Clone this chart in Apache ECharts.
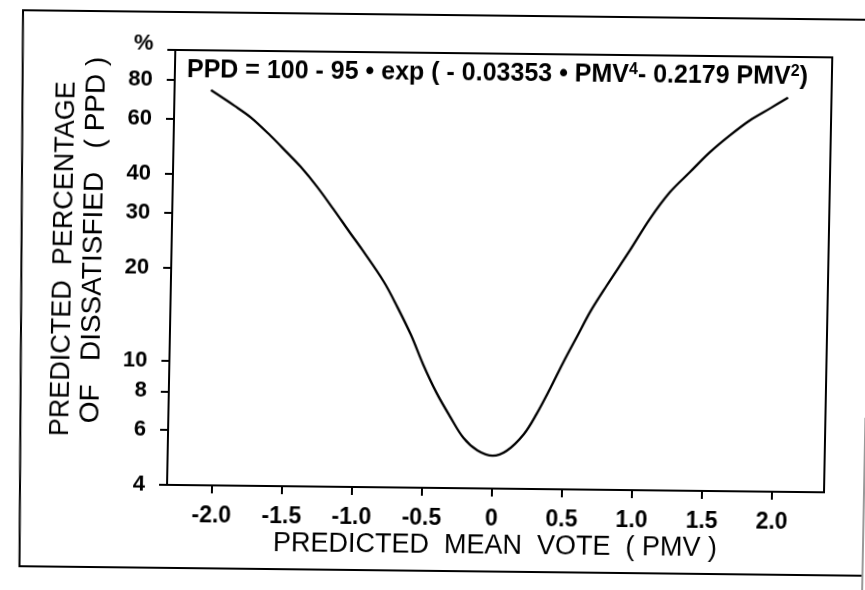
<!DOCTYPE html>
<html><head><meta charset="utf-8">
<script src="https://cdn.jsdelivr.net/npm/echarts@6/dist/echarts.min.js"></script>
<style>
html,body{margin:0;padding:0;background:#fff;overflow:hidden;width:865px;height:590px}
#c{width:865px;height:590px;transform-origin:0 0;transform:matrix(1,0.0113,-0.019,1,9.27,-1.92);}
</style></head><body><div id="c"></div>
<script>
// Values
const pmv = [-2.06,-1.89,-1.77,-1.63,-1.51,-1.41,-1.29,-1.17,-1.05,-0.96,-0.80,-0.70,-0.60,-0.51,-0.41,-0.31,-0.21,-0.11,0.00,0.10,0.22,0.31,0.40,0.49,0.59,0.68,0.79,0.95,1.09,1.23,1.37,1.51,1.65,1.79,1.94,2.06];
const ppd = [74.5,66.5,61.0,53.5,47.3,42.6,36.8,31.2,26.3,23.2,18.3,15.2,12.4,10.0,8.1,6.8,5.8,5.3,5.1,5.3,6.0,7.0,8.4,10.2,12.5,15.0,18.1,23.5,29.8,36.4,42.3,49.1,55.7,62.3,68.5,74.0];
const xTicks = [-2,-1.5,-1,-0.5,0,0.5,1,1.5,2];
const xTickLabels = ['-2.0','-1.5','-1.0','-0.5','0','0.5','1.0','1.5','2.0'];
const yTicks = [4,6,8,10,20,30,40,60,80,100];
const yTickLabels = ['4','6','8','10','20','30','40','60','80','%'];
const xTitle = 'PREDICTED  MEAN  VOTE  ( PMV )';
const yTitle1 = 'PREDICTED  PERCENTAGE';
const yTitle2 = 'OF   DISSATISFIED   ( PPD )';

const FONT = '"Liberation Sans", Arial, Helvetica, sans-serif';
const chart = echarts.init(document.getElementById('c'), null, {renderer:'canvas'});
const lookup = (vals, labels, v) => {
  for (let i = 0; i < vals.length; i++) if (Math.abs(vals[i] - v) < 1e-6 * Math.max(1, Math.abs(v))) return labels[i];
  return '';
};
chart.setOption({
  backgroundColor: '#fff',
  animation: false,
  grid: {left: 167, top: 50, right: 41, bottom: 105, show: true, borderColor: '#000', borderWidth: 2, backgroundColor: 'transparent'},
  xAxis: {
    type: 'value', min: -2.32, max: 2.37,
    axisLine: {show: true, onZero: false, lineStyle: {color: '#000', width: 2}},
    axisTick: {show: true, length: 8, customValues: xTicks, lineStyle: {color: '#000', width: 2}},
    axisLabel: {customValues: xTicks, margin: 19, color: '#000', fontSize: 23, fontWeight: 'bold', fontFamily: FONT,
      formatter: v => lookup(xTicks, xTickLabels, v)},
    splitLine: {show: false}
  },
  yAxis: {
    type: 'log', logBase: 10, min: 4, max: 100,
    axisLine: {show: true, onZero: false, lineStyle: {color: '#000', width: 2}},
    axisTick: {show: true, length: 8, customValues: yTicks, lineStyle: {color: '#000', width: 2}},
    axisLabel: {customValues: yTicks, margin: 22, color: '#000', fontSize: 22, fontWeight: 'bold', fontFamily: FONT,
      formatter: v => { const s = lookup(yTicks, yTickLabels, v); return s === '%' ? '{pct|%}' : s; },
      rich: {pct: {fontSize: 22, fontWeight: 'bold', fontFamily: FONT, color: '#000', padding: [0, 0, 12, 0]}}},
    splitLine: {show: false}, minorTick: {show: false}
  },
  series: [{
    type: 'line', data: pmv.map((x, i) => [x, ppd[i]]), smooth: 0.35, showSymbol: false,
    lineStyle: {color: '#000', width: 2.3}
  }],
  graphic: [
    {type: 'polyline', silent: true, shape: {points: [[900, 12], [14, 12], [21, 568], [900, 568]]}, style: {fill: 'none', stroke: '#000', lineWidth: 2}},
    {type: 'line', silent: true, shape: {x1: 864, y1: 410, x2: 864, y2: 600}, style: {stroke: '#999', lineWidth: 2}},
    {type: 'text', silent: true, style: {
      x: 179, y: 70, align: 'left', verticalAlign: 'middle',
      text: '{m|PPD = 100 - 95 • exp ( - 0.03353 • PMV}{s|4}{m|- 0.2179 PMV}{s|2}{m|)}',
      rich: {
        m: {fontSize: 25, fontWeight: 'bold', fontFamily: FONT, fill: '#000', lineHeight: 27},
        s: {fontSize: 16, fontWeight: 'bold', fontFamily: FONT, fill: '#000', verticalAlign: 'top', lineHeight: 16}
      }}},
    {type: 'text', silent: true, x: 60, y: 260, rotation: Math.PI / 2, style: {
      x: 0, y: 0, align: 'center', verticalAlign: 'middle', text: yTitle1, fontSize: 27, fontFamily: FONT, fill: '#000'}},
    {type: 'text', silent: true, x: 89, y: 241, rotation: Math.PI / 2, style: {
      x: 0, y: 0, align: 'center', verticalAlign: 'middle', text: yTitle2, fontSize: 28, fontFamily: FONT, fill: '#000'}},
    {type: 'text', silent: true, style: {
      x: 496, y: 543, align: 'center', verticalAlign: 'middle', text: xTitle, fontSize: 27, fontFamily: FONT, fill: '#000'}}
  ]
});
</script></body></html>
